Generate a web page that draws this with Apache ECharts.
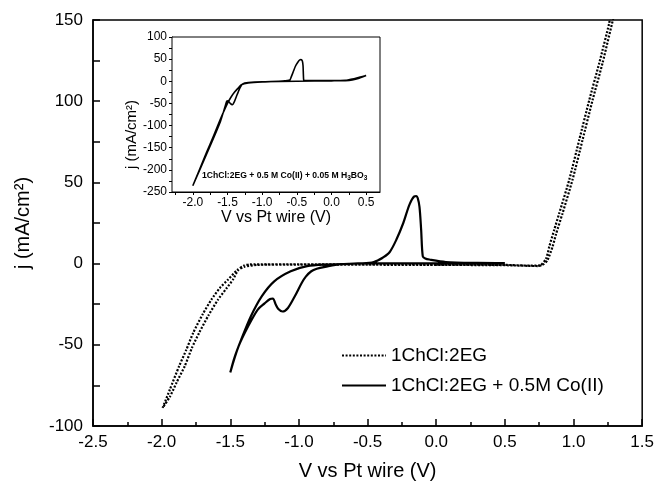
<!DOCTYPE html>
<html><head><meta charset="utf-8">
<script src="https://cdn.jsdelivr.net/npm/echarts@6/dist/echarts.min.js"></script>
<style>html,body{margin:0;padding:0;background:#fff}#c{width:657px;height:487px}</style>
</head><body><div id="c"></div>
<script>
const FONT = '"Liberation Sans", Arial, Helvetica, sans-serif';

// ---- main chart data ----
const seriesNames = ['1ChCl:2EG', '1ChCl:2EG + 0.5M Co(II)'];

// 1ChCl:2EG (dotted) - full CV loop
const egX = [0, -0.5, -1.0, -1.3, -1.40, -1.443, -1.48, -1.53, -1.589, -1.66, -1.727, -1.78, -1.831, -1.89, -1.94, -1.993,
  -1.97, -1.94, -1.872, -1.82, -1.77, -1.70, -1.637, -1.576, -1.516, -1.45, -1.40, -1.36, -1.0, -0.5, 0, 0.5, 0.70, 0.76, 0.80,
  0.824, 0.86, 0.896, 0.969, 1.042, 1.115, 1.187, 1.26, 1.268, 1.292,
  1.211, 1.139, 1.066, 0.993, 0.92, 0.872, 0.848, 0.81, 0.78, 0.74, 0.5, 0];
const egY = [-0.8, -0.7, -0.6, -0.8, -2.0, -4.1, -9.8, -15.5, -22.1, -32, -42.6, -52, -63, -73, -82, -88.8,
  -84, -77.5, -63, -53, -42.6, -31, -22.1, -15, -9.8, -4, -1.2, -0.5, -0.4, -0.5, -0.6, -0.8, -1.3, -1.0, 3,
  10.6, 21, 31, 51.7, 76.3, 100.8, 123.4, 148, 152, 152,
  123.4, 100.8, 76.3, 51.7, 31, 18, 10.6, 2, -0.5, -1.5, -1.0, -0.8];

// 1ChCl:2EG + 0.5M Co(II) (solid)
const coX = [0.5, 0.2, -0.2, -0.5, -0.7, -0.81, -0.87, -0.91, -0.95, -0.98, -1.03, -1.08, -1.12, -1.15, -1.17, -1.19, -1.21, -1.25, -1.30, -1.37, -1.44, -1.50,
  -1.47, -1.42, -1.35, -1.27, -1.18, -1.06, -0.94, -0.81, -0.6, -0.47, -0.43, -0.39, -0.34, -0.29, -0.24, -0.195, -0.16, -0.145, -0.135, -0.122, -0.11, -0.098, -0.08, -0.05, 0.07, 0.3, 0.5];
const coY = [0.2, 0.2, 0.2, 0.1, -0.3, -2, -3.2, -4.7, -8, -11.9, -20.1, -27.3, -29.5, -28, -25, -21.5, -21.8, -24.5, -28.3, -38.6, -51, -67,
  -58, -46.7, -32.4, -20, -10.9, -4.7, -1.6, -0.6, 0, 0.6, 1.8, 3.6, 7, 14.8, 25, 36.3, 41.4, 41.6, 40.4, 35, 21, 4.5, 3.2, 2.5, 1, 0.4, 0.3];

// ---- inset data ----
const insetLabelMain = '1ChCl:2EG + 0.5 M Co(II) + 0.05 M H';
const inX = [0.5, 0.4, 0.3, 0.2, 0, -0.5, -1.0, -1.2, -1.28, -1.32, -1.36, -1.40, -1.43, -1.46, -1.49, -1.51, -1.54, -1.6, -1.7, -1.8, -1.9, -2.0,
  -1.9, -1.8, -1.7, -1.6, -1.5, -1.45, -1.4, -1.35, -1.3, -1.2, -1.0, -0.7, -0.6, -0.58, -0.55, -0.52, -0.49, -0.46, -0.44, -0.42, -0.41, -0.405, -0.40, -0.38, -0.3, 0, 0.2, 0.3, 0.4, 0.5];
const inY = [13, 7, 3, 1.5, 1, 0, -1, -3, -6, -15, -30, -46, -53, -50, -44, -45, -60, -90, -128, -164, -200, -236,
  -198, -160, -123, -85, -50, -36, -25, -16, -8, -4, -1.5, 0.5, 3, 10, 22, 34, 42, 48, 49, 46, 35, 15, 3, 1.5, 1.5, 1.5, 2, 5, 9, 13];

// tick values
const mainXTicks = [-2.5, -2.0, -1.5, -1.0, -0.5, 0.0, 0.5, 1.0, 1.5];
const mainYTicks = [-100, -50, 0, 50, 100, 150];
const inXLabels = [-2.0, -1.5, -1.0, -0.5, 0.0, 0.5];
const inXTicks = [-2.25, -2.0, -1.75, -1.5, -1.25, -1.0, -0.75, -0.5, -0.25, 0.0, 0.25, 0.5];
const inYTicks = [-250, -200, -150, -100, -50, 0, 50, 100];

const zip = (a, b) => a.map((v, i) => [v, b[i]]);

const chart = echarts.init(document.getElementById('c'), null, {renderer: 'canvas'});
const black = '#000';
const option = {
  backgroundColor: '#fff',
  animation: false,
  color: [black, black, black],
  textStyle: {fontFamily: FONT, color: black},
  grid: [
    {left: 93, top: 20, width: 550, height: 406, show: true, borderColor: black, borderWidth: 1.5, backgroundColor: 'transparent', containLabel: false},
    {left: 172, top: 37, width: 208, height: 155, show: true, borderColor: black, borderWidth: 1, backgroundColor: '#fff', containLabel: false, z: 5}
  ],
  legend: {
    data: seriesNames,
    orient: 'vertical',
    left: 336, top: 341,
    itemWidth: 44, itemHeight: 18, itemGap: 11,
    itemStyle: {opacity: 0},
    textStyle: {fontSize: 19, color: black, fontFamily: FONT},
    selectedMode: false
  },
  xAxis: [
    {gridIndex: 0, type: 'value', min: mainXTicks[0], max: mainXTicks[mainXTicks.length - 1], interval: 0.5,
      name: 'V vs Pt wire (V)', nameLocation: 'middle', nameGap: 35,
      nameTextStyle: {fontSize: 20, color: black, fontFamily: FONT},
      axisLine: {onZero: false, lineStyle: {color: black, width: 1.5}},
      axisTick: {inside: true, length: 7, lineStyle: {color: black, width: 1.5}},
      minorTick: {show: true, splitNumber: 2, length: 4, lineStyle: {color: black, width: 1.5}},
      splitLine: {show: false},
      axisLabel: {fontSize: 17, color: black, margin: 8, fontFamily: FONT, formatter: v => v.toFixed(1)}},
    {gridIndex: 1, type: 'value', min: -2.3, max: 0.7,
      name: 'V vs Pt wire (V)', nameLocation: 'middle', nameGap: 17,
      nameTextStyle: {fontSize: 16, color: black, fontFamily: FONT},
      axisLine: {onZero: false, lineStyle: {color: black, width: 1}},
      axisTick: {inside: false, length: 3, customValues: inXTicks, lineStyle: {color: black, width: 1}},
      splitLine: {show: false},
      axisLabel: {fontSize: 12, color: black, margin: 5, fontFamily: FONT, customValues: inXLabels, formatter: v => v.toFixed(1)}}
  ],
  yAxis: [
    {gridIndex: 0, type: 'value', min: mainYTicks[0], max: mainYTicks[mainYTicks.length - 1], interval: 50,
      name: 'j (mA/cm²)', nameLocation: 'middle', nameGap: 60,
      nameTextStyle: {fontSize: 20, color: black, fontFamily: FONT},
      axisLine: {onZero: false, lineStyle: {color: black, width: 1.5}},
      axisTick: {inside: true, length: 7, lineStyle: {color: black, width: 1.5}},
      minorTick: {show: true, splitNumber: 2, length: 7, lineStyle: {color: black, width: 1.5}},
      splitLine: {show: false},
      axisLabel: {fontSize: 17, color: black, margin: 10, fontFamily: FONT}},
    {gridIndex: 1, type: 'value', min: inYTicks[0], max: inYTicks[inYTicks.length - 1], interval: 50,
      name: 'j (mA/cm²)', nameLocation: 'middle', nameGap: 25,
      nameTextStyle: {fontSize: 15, color: black, fontFamily: FONT, padding: [0, 40, 0, 0]},
      axisLine: {onZero: false, lineStyle: {color: black, width: 1}},
      axisTick: {inside: false, length: 3, lineStyle: {color: black, width: 1}},
      minorTick: {show: true, splitNumber: 2, length: 3, lineStyle: {color: black, width: 1}},
      splitLine: {show: false},
      axisLabel: {fontSize: 12, color: black, margin: 5, fontFamily: FONT}}
  ],
  series: [
    {name: seriesNames[0], type: 'line', xAxisIndex: 0, yAxisIndex: 0, data: zip(egX, egY),
      symbol: 'none', smooth: 0.2, clip: true, itemStyle: {color: black},
      lineStyle: {color: black, width: 2.2, type: [2, 1.6]}, z: 2},
    {name: seriesNames[1], type: 'line', xAxisIndex: 0, yAxisIndex: 0, data: zip(coX, coY),
      symbol: 'none', smooth: 0.3, clip: true, itemStyle: {color: black},
      lineStyle: {color: black, width: 2.2, type: 'solid'}, z: 3},
    {name: 'inset', type: 'line', xAxisIndex: 1, yAxisIndex: 1, data: zip(inX, inY),
      symbol: 'none', smooth: 0.2, clip: true, itemStyle: {color: black},
      lineStyle: {color: black, width: 1.6}, z: 6}
  ],
  graphic: [
    {type: 'text', left: 202, top: 171, z: 10,
      style: {
        text: '{n|' + insetLabelMain + '}{s|3}{n|BO}{s|3}',
        rich: {
          n: {font: 'bold 8.6px ' + FONT, fill: black, lineHeight: 12, verticalAlign: 'middle'},
          s: {font: 'bold 6.5px ' + FONT, fill: black, lineHeight: 12, verticalAlign: 'bottom'}
        }
      }}
  ]
};
chart.setOption(option);
</script>
</body></html>
